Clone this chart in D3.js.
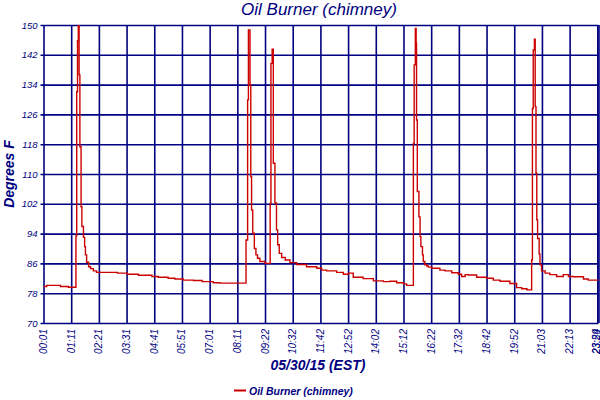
<!DOCTYPE html>
<html>
<head>
<meta charset="utf-8">
<script src="https://cdn.jsdelivr.net/npm/d3@7"></script>
<style>
  body { margin: 0; background: #fff; }
  svg { display: block; }
  text { font-family: "Liberation Sans", Arial, sans-serif; fill: #000080; }
</style>
</head>
<body>
<svg id="chart" width="600" height="400"></svg>
<script>
// ---- data (sample index ~ minute of the day, temperature in °F) ----
const sampleIndex = [0, 8, 43, 63, 82, 84, 86, 88, 90, 92, 95, 97, 101, 104, 106, 109, 114, 119, 126, 134,
  187, 212, 240, 274, 290, 315, 332, 353, 379, 401, 429, 446, 512,
  514, 516, 518, 520, 522, 524, 526, 529, 533, 537, 541, 547, 560, 573,
  575, 578, 581, 585, 589, 592, 596, 602, 611, 623, 640, 665, 691, 703, 716, 741, 758, 771, 783,
  808, 834, 859, 876, 893, 910, 918, 935,
  937, 940, 942, 943, 945, 949, 952, 954, 958, 960, 964, 969, 973, 981, 1002, 1015, 1032, 1049,
  1057, 1066, 1074, 1095, 1120, 1137, 1154, 1179, 1196, 1209, 1222, 1234, 1236,
  1238, 1241, 1243, 1245, 1247, 1249, 1253, 1255, 1259, 1268, 1280, 1297, 1314, 1327, 1339,
  1365, 1377, 1390, 1403];
const tempF = [79.8, 80.1, 79.8, 79.6, 93.4, 132.1, 145.8, 153, 136.6, 117.3, 101.2, 95.9, 93.0, 90.5, 88.3, 86.3, 85.1, 84.6, 84.0, 83.6,
  83.4, 83.1, 82.8, 82.5, 82.3, 82.0, 81.8, 81.5, 81.4, 81.1, 80.8, 80.7, 92.3,
  92.3, 129.9, 148.7, 148.7, 133.9, 109.3, 100.3, 94.1, 90.0, 88.3, 87.4, 86.5, 86.0, 102.1,
  139.7, 143.5, 112.9, 102.2, 95.0, 91.0, 88.7, 87.6, 86.9, 86.2, 85.7, 85.1, 84.7, 84.2, 84.0, 83.6, 83.1, 83.4, 82.3,
  81.9, 81.3, 81.1, 81.2, 80.8, 80.5, 80.1, 118.2,
  139.3, 149.1, 145.1, 124.5, 105.3, 98.5, 93.2, 90.5, 88.3, 86.5, 85.6, 85.3, 85.0, 84.7, 84.2, 84.0, 83.5,
  83.1, 82.5, 83.0, 82.9, 82.3, 82.0, 81.5, 81.2, 80.6, 79.5, 79.2, 78.9, 86.9, 127.6,
  143.3, 146.2, 128.1, 110.2, 97.7, 92.7, 88.5, 85.6, 84.0, 83.4, 83.0, 82.5, 83.0, 82.5,
  82.4, 81.8, 81.5, 81.5, 81.5];

const xTickIndex  = [0, 70, 140, 210, 280, 350, 420, 490, 560, 630, 700, 770, 840, 910, 980, 1050, 1120, 1190, 1260, 1330, 1400, 1403];
const xTickLabels = ["00:01","01:11","02:21","03:31","04:41","05:51","07:01","08:11","09:22","10:32","11:42",
                     "12:52","14:02","15:12","16:22","17:32","18:42","19:52","21:03","22:13","23:24","23:59"];
const yTicks = [70, 78, 86, 94, 102, 110, 118, 126, 134, 142, 150];

const titleText  = "Oil Burner (chimney)";
const xTitleText = "05/30/15 (EST)";
const yTitleText = "Degrees F";
const seriesName = "Oil Burner (chimney)";

// ---- layout ----
const svg = d3.select("#chart");
const pLeft = 43.5, pRight = 598.5, pTop = 25, pBottom = 323;
const navy = "#000080", red = "#cc0000";

const x = d3.scaleLinear().domain([0, 1403]).range([pLeft, pRight]);
const y = d3.scaleLinear().domain([70, 150]).range([pBottom, pTop]);

// Y axis with horizontal grid lines
const yAxis = d3.axisLeft(y).tickValues(yTicks).tickSize(-(pRight - pLeft + 3)).tickPadding(3);
const gy = svg.append("g").attr("transform", `translate(${pLeft - 3},0)`).call(yAxis);
gy.select(".domain").remove();
gy.selectAll("line").attr("stroke", navy).attr("stroke-width", 1.6);
gy.selectAll("text").attr("fill", navy).style("font-size", "9.5px").style("font-style", "italic")
  .style("font-family", "'Liberation Sans', Arial, sans-serif");

// X axis with vertical grid lines
const xAxis = d3.axisBottom(x).tickValues(xTickIndex).tickFormat((d, i) => xTickLabels[i])
  .tickSize(-(pBottom - pTop)).tickPadding(6);
const gx = svg.append("g").attr("transform", `translate(0,${pBottom})`).call(xAxis);
gx.select(".domain").remove();
gx.selectAll("line").attr("stroke", navy).attr("stroke-width", 1.6);
gx.selectAll("text")
  .attr("fill", navy)
  .style("font-size", "10px").style("font-style", "italic")
  .style("font-family", "'Liberation Sans', Arial, sans-serif")
  .attr("text-anchor", "end")
  .attr("transform", "rotate(-90)")
  .attr("x", -6).attr("y", 0)
  .attr("dy", d => Math.min(3, 599 - x(d)));

// Data line, clipped to the plot area
svg.append("clipPath").attr("id", "clip")
  .append("rect").attr("x", pLeft).attr("y", pTop).attr("width", pRight - pLeft).attr("height", pBottom - pTop);

const pts = sampleIndex.map((d, i) => [d, tempF[i]]);
const line = d3.line().x(d => x(d[0])).y(d => y(d[1])).curve(d3.curveStepAfter);
svg.append("path").datum(pts)
  .attr("clip-path", "url(#clip)")
  .attr("fill", "none").attr("stroke", red).attr("stroke-width", 1.4)
  .attr("d", line);

// Titles
svg.append("text").attr("x", 319).attr("y", 15).attr("text-anchor", "middle")
  .style("font-size", "17px").style("font-style", "italic").text(titleText);

svg.append("text").attr("x", 318).attr("y", 370).attr("text-anchor", "middle")
  .style("font-size", "14px").style("font-style", "italic").style("font-weight", "bold").text(xTitleText);

svg.append("text").attr("transform", `translate(13.5,${(pTop + pBottom) / 2}) rotate(-90)`)
  .attr("text-anchor", "middle")
  .style("font-size", "14px").style("font-style", "italic").style("font-weight", "bold").text(yTitleText);

// Legend
svg.append("line").attr("x1", 234).attr("x2", 246).attr("y1", 390.5).attr("y2", 390.5)
  .attr("stroke", red).attr("stroke-width", 2);
svg.append("text").attr("x", 249).attr("y", 394.5)
  .style("font-size", "10.5px").style("font-style", "italic").style("font-weight", "bold").text(seriesName);
</script>
</body>
</html>
